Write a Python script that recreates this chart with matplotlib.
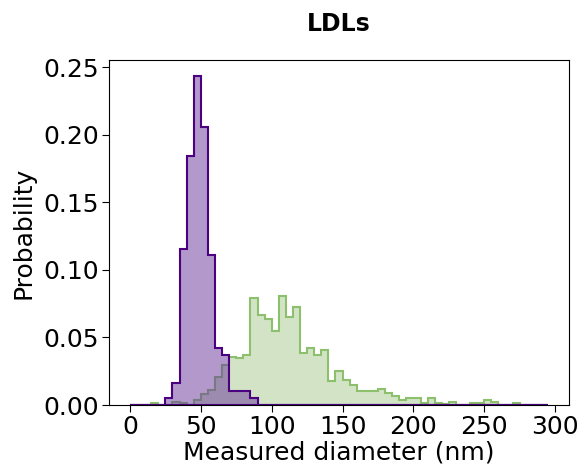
import matplotlib.pyplot as plt
import numpy as np

# 5 nm bins from 0 to 295 nm
edges = np.arange(0, 300, 5)

# probability per bin
purple_prob = [0, 0, 0, 0, 0, 0.0049, 0.016, 0.1158, 0.1847, 0.2434,
               0.2062, 0.1108, 0.0424, 0.037, 0.0106, 0.0106, 0.0106, 0.0049]

green_prob = [0, 0, 0, 0.0015, 0, 0, 0.0025, 0.0012, 0, 0.0037,
              0.0079, 0.011, 0.0205, 0.0296, 0.0358, 0.0345, 0.037, 0.0796, 0.067, 0.064,
              0.055, 0.0808, 0.0653, 0.0727, 0.0387, 0.0419, 0.037, 0.0406, 0.018, 0.0254,
              0.0185, 0.0148, 0.0103, 0.0103, 0.0103, 0.0116, 0.0088, 0.0064, 0.0037, 0.0049,
              0.0049, 0.0017, 0.0049, 0.0017, 0.0007, 0.0025, 0, 0, 0.0012, 0.0012,
              0.0037, 0.0025, 0, 0, 0.0012]

nb = len(edges) - 1
purple = np.zeros(nb)
purple[:len(purple_prob)] = purple_prob
green = np.zeros(nb)
green[:len(green_prob)] = green_prob

plt.rcParams["font.family"] = "DejaVu Sans"
plt.rcParams["font.size"] = 18

fig = plt.figure(figsize=(5.8, 4.68), dpi=100)
ax = fig.add_axes([0.188, 0.1346, 0.793, 0.7374])

ax.hist(edges[:-1], bins=edges, weights=green, histtype="stepfilled",
        facecolor="#d3e4c6", edgecolor="#8cc06c", linewidth=1.5)
ax.hist(edges[:-1], bins=edges, weights=purple, histtype="stepfilled",
        facecolor=(0.4, 0.2, 0.6, 0.5), edgecolor="#4b0082", linewidth=1.5)

ax.set_xticks([0, 50, 100, 150, 200, 250, 300])
ax.set_yticks([0, 0.05, 0.10, 0.15, 0.20, 0.25])
ax.tick_params(pad=2, length=5)
ax.set_xlabel("Measured diameter (nm)", labelpad=1)
ax.set_ylabel("Probability", labelpad=6)
ax.set_title("LDLs", fontweight="bold", fontsize=17, pad=21)

fig.savefig("out.png", dpi=100)
